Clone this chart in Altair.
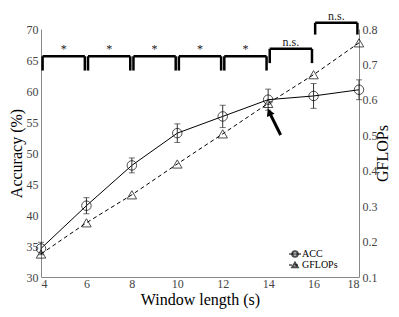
import altair as alt
import pandas as pd

window = [4, 6, 8, 10, 12, 14, 16, 18]
acc = [34.6, 41.5, 48.0, 53.2, 55.9, 58.6, 59.2, 60.2]
acc_err = [1.0, 1.3, 1.2, 1.5, 1.8, 1.7, 2.0, 1.6]
gflops = [0.165, 0.253, 0.332, 0.419, 0.504, 0.59, 0.671, 0.761]

br_start = [4, 6, 8, 10, 12, 14, 16]
br_end = [6, 8, 10, 12, 14, 16, 18]
br_level = [65.6, 65.6, 65.6, 65.6, 65.6, 66.8, 71.0]
br_leg = [63.3, 63.3, 63.3, 63.3, 63.3, 64.5, 69.1]
br_label = ["*", "*", "*", "*", "*", "n.s.", "n.s."]

arrow_tail = (14.55, 52.9)
arrow_head = (14.05, 56.6)

acc_ticks = [30, 35, 40, 45, 50, 55, 60, 65, 70]
g_ticks = [0.1, 0.2, 0.3, 0.4, 0.5, 0.6, 0.7, 0.8]

FONT = "Liberation Serif"

df = pd.DataFrame({"w": window, "acc": acc, "err": acc_err, "g": gflops})
df["lo"] = df["acc"] - df["err"]
df["hi"] = df["acc"] + df["err"]

br = pd.DataFrame({"a": br_start, "b": br_end, "y": br_level, "leg": br_leg, "lab": br_label})
br["a1"] = br["a"] + 0.07
br["b1"] = br["b"] - 0.07
br["mid"] = (br["a"] + br["b"]) / 2
br["ty"] = br["y"] + 0.45
legs = pd.concat([
    pd.DataFrame({"x": br["a1"], "y": br["y"], "y2": br["leg"]}),
    pd.DataFrame({"x": br["b1"], "y": br["y"], "y2": br["leg"]}),
])

arr = pd.DataFrame({"x": [arrow_tail[0]], "y": [arrow_tail[1]], "x2": [arrow_head[0]], "y2": [arrow_head[1]]})
one = pd.DataFrame({"k": [0]})

xs = alt.Scale(domain=[4, 18], nice=False)
ys = alt.Scale(domain=[30, 70], nice=False)
gs = alt.Scale(domain=[0.1, 0.8], nice=False)

common = dict(grid=False, ticks=False, labelFont=FONT, labelFontSize=12, labelColor="#444",
              titleFont=FONT, titleFontSize=16, titleFontWeight="normal", titleColor="#000",
              domainColor="#888", labelOverlap=False)
xax = alt.Axis(values=window, title="Window length (s)", labelPadding=1, titlePadding=2, **common)
yax = alt.Axis(values=acc_ticks, title="Accuracy (%)", labelPadding=3, titlePadding=2, **common)
gax = alt.Axis(values=g_ticks, title="GFLOPs", orient="right", format=".1f",
               labelPadding=3, titlePadding=13, titleAngle=270, **common)


def X(f):
    return alt.X(f, scale=xs, axis=xax)


def Y(f):
    return alt.Y(f, scale=ys, axis=yax)


def G(f):
    return alt.Y(f, scale=gs, axis=gax)


base = alt.Chart(df)
acc_line = base.mark_line(color="black", strokeWidth=1).encode(x=X("w:Q"), y=Y("acc:Q"))
acc_err_rule = base.mark_rule(color="#333", strokeWidth=1).encode(x=X("w:Q"), y=Y("lo:Q"), y2="hi:Q")
cap_lo = base.mark_tick(color="#333", size=6, thickness=1, orient="horizontal").encode(x=X("w:Q"), y=Y("lo:Q"))
cap_hi = base.mark_tick(color="#333", size=6, thickness=1, orient="horizontal").encode(x=X("w:Q"), y=Y("hi:Q"))
acc_pts = base.mark_point(shape="circle", size=90, color="black", filled=False, strokeWidth=1).encode(
    x=X("w:Q"), y=Y("acc:Q"))

bh = alt.Chart(br).mark_rule(color="black", strokeWidth=2.5).encode(x=X("a1:Q"), x2="b1:Q", y=Y("y:Q"))
bl = alt.Chart(legs).mark_rule(color="black", strokeWidth=2.5).encode(x=X("x:Q"), y=Y("y:Q"), y2="y2:Q")
bt = alt.Chart(br).mark_text(font=FONT, fontSize=12, color="#222", baseline="alphabetic").encode(
    x=X("mid:Q"), y=Y("ty:Q"), text="lab:N")

arrow_line = alt.Chart(arr).mark_rule(color="black", strokeWidth=3).encode(
    x=X("x:Q"), y=Y("y:Q"), x2="x2:Q", y2="y2:Q")
arrow_hd = alt.Chart(arr).mark_point(shape="triangle-up", size=70, filled=True, color="black",
                                     angle=336, opacity=1).encode(x=X("x2:Q"), y=Y("y2:Q"))

# legend (drawn manually)
lg = alt.Chart(one)
leg1_line = lg.mark_rule(color="black", strokeWidth=1).encode(
    x=alt.value(248), x2=alt.value(260), y=alt.value(225))
leg1_pt = lg.mark_point(shape="circle", size=30, color="black", filled=False).encode(
    x=alt.value(254), y=alt.value(225))
leg1_tx = lg.mark_text(text="ACC", font=FONT, fontSize=10, align="left", baseline="middle").encode(
    x=alt.value(261), y=alt.value(225))
leg2_line = lg.mark_rule(color="black", strokeWidth=1, strokeDash=[3, 3]).encode(
    x=alt.value(248), x2=alt.value(260), y=alt.value(236))
leg2_pt = lg.mark_point(shape="triangle-up", size=30, color="black", filled=False).encode(
    x=alt.value(254), y=alt.value(236))
leg2_tx = lg.mark_text(text="GFLOPs", font=FONT, fontSize=10, align="left", baseline="middle").encode(
    x=alt.value(261), y=alt.value(236))

left = alt.layer(acc_line, acc_err_rule, cap_lo, cap_hi, acc_pts, bh, bl, bt, arrow_line, arrow_hd,
                 leg1_line, leg1_pt, leg1_tx, leg2_line, leg2_pt, leg2_tx)

g_line = base.mark_line(color="black", strokeWidth=1, strokeDash=[4, 3]).encode(x=X("w:Q"), y=G("g:Q"))
g_pts = base.mark_point(shape="triangle-up", size=90, color="black", filled=False, strokeWidth=1).encode(
    x=X("w:Q"), y=G("g:Q"))
right = alt.layer(g_line, g_pts)

chart = alt.layer(left, right).resolve_scale(y="independent").properties(
    width=318, height=248,
    autosize=alt.AutoSizeParams(type="none"),
    padding={"left": 33, "top": 21, "right": 32, "bottom": 38},
    background="white",
).configure_view(stroke=None)

chart.save("out.html", embed_options={"renderer": "svg", "actions": False})
